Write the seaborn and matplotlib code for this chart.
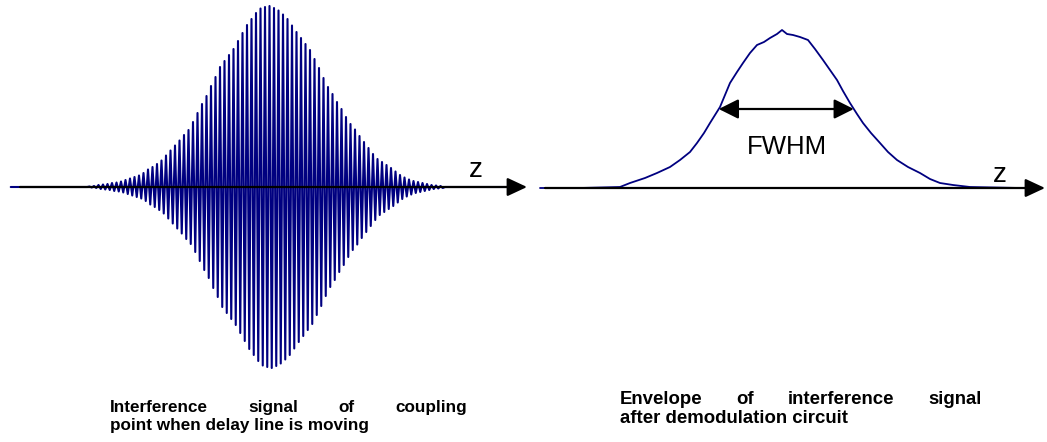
import numpy as np
import pandas as pd
import seaborn as sns
import matplotlib.pyplot as plt

sns.set_theme(style="white")
plt.rcParams["font.family"] = ["Liberation Sans", "DejaVu Sans"]
plt.rcParams["text.color"] = "black"

# left panel: fringe peak amplitude for each cycle of the delay-line scan
fringe_amp = [0, 0.5, 1, 2, 2.5, 3, 4, 4.5, 5.5, 7,
              8.5, 10, 11.5, 14, 17.5, 20, 23, 26.5, 31.5, 36.5,
              41.5, 46.5, 52, 57, 65, 74, 83, 91, 101, 110,
              120, 126, 132, 138, 146, 154, 162, 168, 174, 178.5,
              180, 181, 179, 176.5, 172.5, 168, 161.5, 155, 149, 143,
              137, 128, 119, 109, 100, 93, 85, 78, 70, 63,
              57.5, 51, 45, 39, 33, 28, 25, 22, 19, 15.5,
              12, 9.5, 7.5, 6, 5, 4, 3, 2, 1.5, 1, 0]
scan_start, scan_end = -16.5, 94.5  # flat trace before/after the fringes

# right panel: demodulated envelope (z relative to the peak)
env_z = [-242, -202, -162, -152, -137, -125, -112, -102, -92, -85,
         -78, -72, -62, -52, -45, -39, -32, -25, -18, -12,
         -5, 0, 5, 11, 18, 26, 33, 41, 48, 55,
         61, 68, 75, 81, 89, 98, 106, 115, 126, 138,
         148, 158, 171, 188, 238]
env_h = [0, 0, 1, 5, 10, 15, 21, 28, 36, 45,
         55, 65, 81, 105, 116, 125, 135, 143, 146, 150,
         154, 158, 154, 153, 151, 148, 139, 128, 118, 108,
         97, 85, 74, 65, 55, 45, 36, 28, 21, 15,
         9, 5, 3, 1, 0]

left_caption = ["Interference signal of coupling", "point when delay line is moving"]
right_caption = ["Envelope of interference signal", "after demodulation circuit"]

W, H = 1047, 442
fig = plt.figure(figsize=(W / 100, H / 100), dpi=100)
navy = "#000080"

# ---- left: interference signal
zs, ys = [scan_start], [0.0]
for k, a in enumerate(fringe_amp):
    zs += [k, k + 0.5]
    ys += [a, -a]
zs.append(scan_end)
ys.append(0.0)
fringes = pd.DataFrame({"z": zs, "signal": ys})

axL = fig.add_axes([0, 0, 530 / W, 1])
sns.lineplot(data=fringes, x="z", y="signal", ax=axL, color=navy,
             linewidth=1.5, sort=False, estimator=None)
axL.set_xlim(-85 / 4.5, 445 / 4.5)
axL.set_ylim(-255, 187)

# ---- right: envelope
envelope = pd.DataFrame({"z": env_z, "level": env_h})
axR = fig.add_axes([530 / W, 0, 517 / W, 1])
sns.lineplot(data=envelope, x="z", y="level", ax=axR, color=navy,
             linewidth=1.3, sort=False, estimator=None)
axR.set_xlim(-252, 265)
axR.set_ylim(-254, 188)

axis_arrow = dict(arrowstyle="-|>,head_length=0.6,head_width=0.28",
                  mutation_scale=20, color="black", lw=1.6,
                  shrinkA=0, shrinkB=0)
for ax, x0, x1 in [(axL, 20 / 530, 527 / 530), (axR, 15 / 517, 515 / 517)]:
    ax.annotate("", xy=(x1, 0), xytext=(x0, 0),
                xycoords=("axes fraction", "data"),
                textcoords=("axes fraction", "data"),
                arrowprops=axis_arrow, zorder=5)
    ax.set_axis_off()

# FWHM marker from the envelope data
half = max(env_h) / 2
ipk = int(np.argmax(env_h))
z_lo = np.interp(half, env_h[:ipk + 1], env_z[:ipk + 1])
z_hi = np.interp(half, env_h[ipk:][::-1], env_z[ipk:][::-1])
axR.annotate("", xy=(z_hi, half), xytext=(z_lo, half),
             arrowprops=dict(arrowstyle="<|-|>,head_length=0.6,head_width=0.3",
                             mutation_scale=20, color="black", lw=1.6,
                             shrinkA=0, shrinkB=0))
axR.text(5, 34, "FWHM", ha="center", va="baseline", fontsize=18.5)

fig.text(476 / W, 1 - 177 / H, "z", ha="center", va="baseline", fontsize=20)
fig.text(1000 / W, 1 - 182 / H, "z", ha="center", va="baseline", fontsize=20)

# ---- captions (first line justified)
renderer = fig.canvas.get_renderer()


def justified(text, x0, x1, y, size):
    words = text.split()
    objs = [fig.text(0, 1 - y / H, w, fontsize=size, fontweight="bold",
                     va="baseline") for w in words]
    widths = [o.get_window_extent(renderer).width for o in objs]
    gap = (x1 - x0 - sum(widths)) / (len(words) - 1)
    x = x0
    for o, w in zip(objs, widths):
        o.set_x(x / W)
        x += w + gap


justified(left_caption[0], 110, 467, 412, 12.3)
fig.text(110 / W, 1 - 430 / H, left_caption[1], fontsize=12.3,
         fontweight="bold", va="baseline")
justified(right_caption[0], 620, 982, 404, 13.4)
fig.text(620 / W, 1 - 423 / H, right_caption[1], fontsize=13.4,
         fontweight="bold", va="baseline")

fig.savefig("out.png", dpi=100)
